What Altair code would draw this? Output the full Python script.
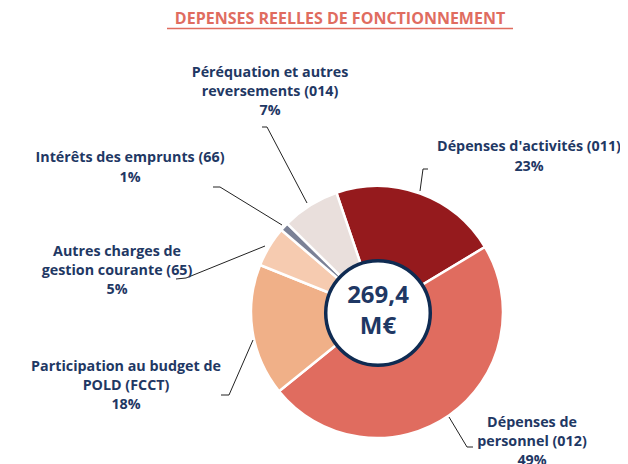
import altair as alt
import pandas as pd

# ---- data ----
categories = [
    "Dépenses d'activités (011)",
    "Dépenses de personnel (012)",
    "Participation au budget de POLD (FCCT)",
    "Autres charges de gestion courante (65)",
    "Intérêts des emprunts (66)",
    "Péréquation et autres reversements (014)",
]
shares = [21.6, 47.8, 16.9, 5.2, 1.1, 7.4]
pct_labels = ["23%", "49%", "18%", "5%", "1%", "7%"]
label_lines = [
    ["Dépenses d'activités (011)"],
    ["Dépenses de", "personnel (012)"],
    ["Participation au budget de", "POLD (FCCT)"],
    ["Autres charges de", "gestion courante (65)"],
    ["Intérêts des emprunts (66)"],
    ["Péréquation et autres", "reversements (014)"],
]
colors = ["#951a1d", "#e06c5f", "#f0b088", "#f6cbb0", "#7b8196", "#e9dfdc"]
total_lines = ["269,4", "M€"]
title_text = "DEPENSES REELLES DE FONCTIONNEMENT"

# ---- layout (pixels in chart coordinates) ----
W, H = 612, 456
CX, CY = 369, 304
R_OUT = 126
NAVY = "#1f3864"
FONT = "Open Sans"
start = 6.2832 - 0.328  # first slice starts slightly left of 12 o'clock

label_anchor = [  # x, y of first line, line step
    (521, 139, 20),
    (524, 415, 19),
    (118, 359, 19),
    (109, 244, 19),
    (122, 150, 20),
    (262, 65, 19),
]
leaders = [
    [(412, 183), (415, 161), (420, 161)],
    [(441, 409), (459, 439), (465, 439)],
    [(245, 332), (221, 387), (213, 387)],
    [(257, 238), (178, 270), (168, 271)],
    [(274, 217), (212, 179), (205, 179)],
    [(299, 195), (259, 119), (254, 119)],
]

pie_df = pd.DataFrame({"cat": categories, "share": shares, "idx": list(range(len(categories)))})

pie = alt.Chart(pie_df).mark_arc(outerRadius=R_OUT, stroke="white", strokeWidth=2.5).encode(
    theta=alt.Theta("share:Q", stack=True, scale=alt.Scale(range=[start, start + 6.2832])),
    order=alt.Order("idx:Q"),
    color=alt.Color("cat:N", scale=alt.Scale(domain=categories, range=colors), legend=None),
    x=alt.value(CX),
    y=alt.value(CY),
)

hole = alt.Chart(pd.DataFrame({"k": [0]})).mark_circle(
    size=3.1416 * 59 * 59, fill="white", fillOpacity=1, stroke="#0f2b52", strokeWidth=3.5, opacity=1
).encode(x=alt.value(CX + 1), y=alt.value(CY + 1))

center_df = pd.DataFrame({"t": total_lines, "y": [CY - 16, CY + 15], "x": [CX + 1, CX + 1]})
center_txt = alt.Chart(center_df).mark_text(
    font=FONT, fontSize=24, fontWeight="bold", color=NAVY, baseline="middle", align="center"
).encode(x=alt.X("x:Q", scale=None), y=alt.Y("y:Q", scale=None), text="t:N")

rows = []
for i, lines in enumerate(label_lines):
    x0, y0, step = label_anchor[i]
    for j, ln in enumerate(lines + [pct_labels[i]]):
        rows.append({"t": ln, "x": x0, "y": y0 + j * step})
lab_df = pd.DataFrame(rows)
labels = alt.Chart(lab_df).mark_text(
    font=FONT, fontSize=14.3, fontWeight="bold", color=NAVY, baseline="middle", align="center"
).encode(x=alt.X("x:Q", scale=None), y=alt.Y("y:Q", scale=None), text="t:N")

lrows = []
for i, pts in enumerate(leaders):
    for k, (px, py) in enumerate(pts):
        lrows.append({"g": i, "o": k, "x": px, "y": py})
lead_df = pd.DataFrame(lrows)
lead = alt.Chart(lead_df).mark_line(color="#222222", strokeWidth=1).encode(
    x=alt.X("x:Q", scale=None), y=alt.Y("y:Q", scale=None), detail="g:N", order="o:Q"
)

title_df = pd.DataFrame({"t": [title_text], "x": [332], "y": [11]})
title = alt.Chart(title_df).mark_text(
    font=FONT, fontSize=16, fontWeight="bold", color="#e06c5f", baseline="middle", align="center"
).encode(x=alt.X("x:Q", scale=None), y=alt.Y("y:Q", scale=None), text="t:N")
underline = alt.Chart(pd.DataFrame({"k": [0]})).mark_rule(color="#e06c5f", strokeWidth=1.3).encode(
    x=alt.value(159), x2=alt.value(505), y=alt.value(20.5)
)

chart = alt.layer(pie, hole, center_txt, lead, labels, title, underline).properties(
    width=W, height=H, padding=0, autosize=alt.AutoSizeParams(type="none")
).configure_view(stroke=None)

chart.save("out.html", embed_options={"renderer": "svg", "actions": False})
